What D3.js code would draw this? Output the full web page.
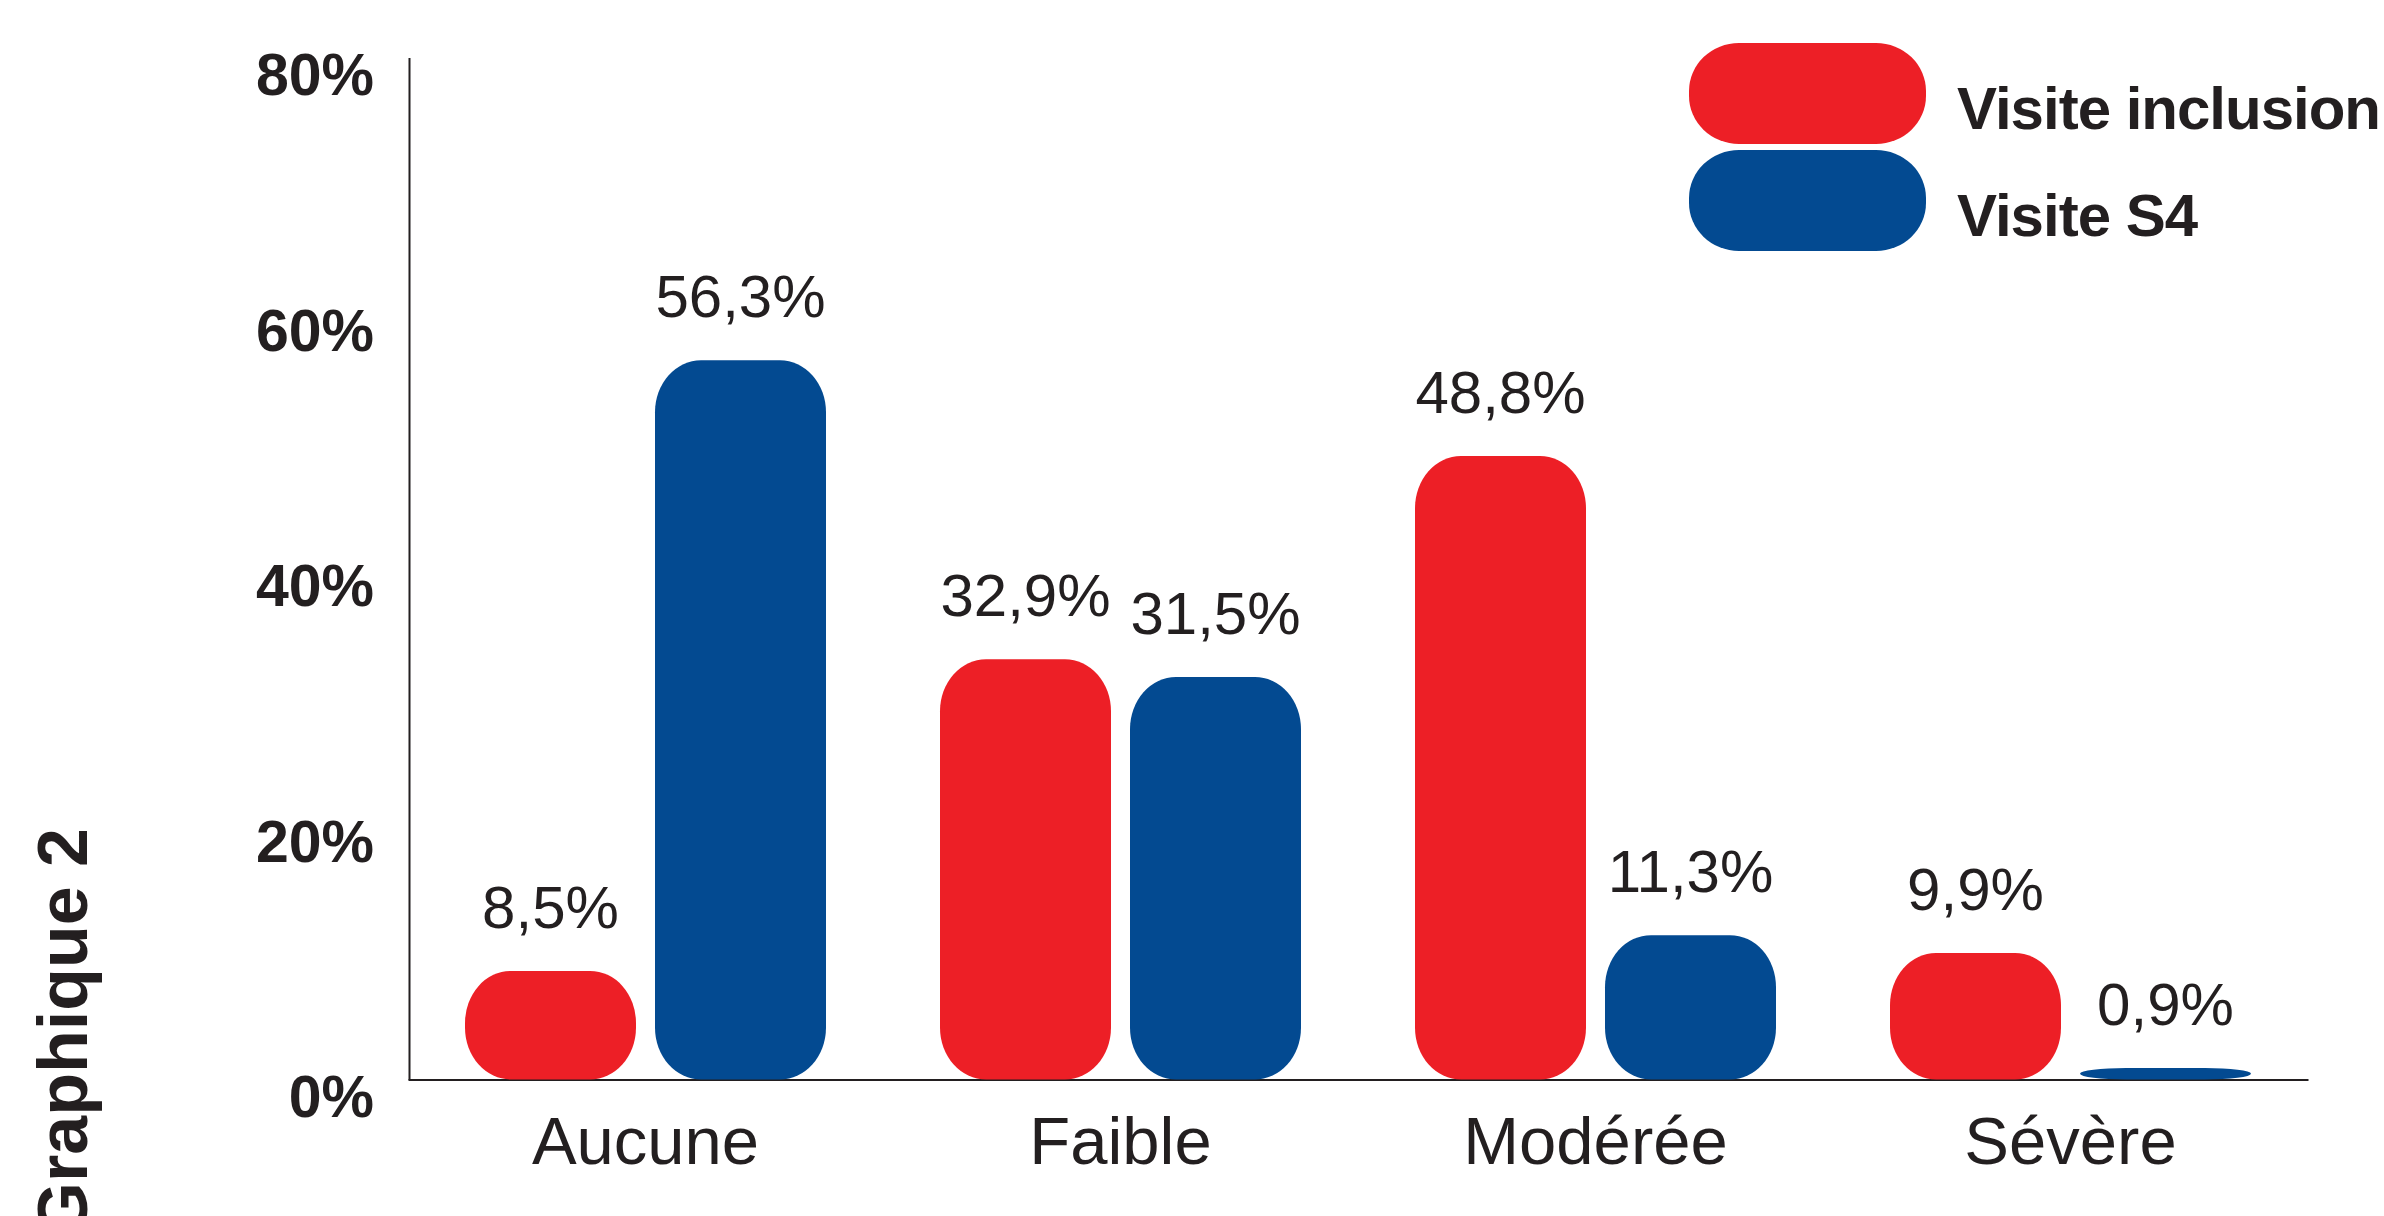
<!DOCTYPE html>
<html>
<head>
<meta charset="utf-8">
<script src="https://cdn.jsdelivr.net/npm/d3@7"></script>
<style>
  body { margin: 0; background: #fff; }
  text { font-family: "Liberation Sans", Arial, Helvetica, sans-serif; fill: #231f20; }
</style>
</head>
<body>
<div id="chart"></div>
<script>
// data
var categories = ["Aucune", "Faible", "Modérée", "Sévère"];
var series = ["Visite inclusion", "Visite S4"];
var inclusion = [8.5, 32.9, 48.8, 9.9];
var s4 = [56.3, 31.5, 11.3, 0.9];
var yTicks = [0, 20, 40, 60, 80];
var colors = ["#ed1f26", "#034a91"];

var svgWidth = 2384;
var svgHeight = 1216;

var svg = d3.select("#chart")
  .append("svg")
  .attr("width", svgWidth)
  .attr("height", svgHeight);

// scales
var y = d3.scaleLinear()
  .domain([0, 80])
  .range([1079.5, 57.5]);

var x0 = d3.scaleBand()
  .domain(categories)
  .range([408, 2308])
  .padding(0);

var x1 = d3.scaleBand()
  .domain(series)
  .range([0, x0.bandwidth()])
  .paddingInner(0.1)
  .paddingOuter(0.3);

var fmt = function(v) { return String(v).replace(".", ",") + "%"; };

// y axis
var leftAxis = d3.axisLeft(y)
  .tickValues(yTicks)
  .tickSize(0)
  .tickSizeOuter(0)
  .tickPadding(35)
  .tickFormat(d => d + "%");

var gy = svg.append("g")
  .attr("transform", "translate(409,0)")
  .call(leftAxis);
gy.select(".domain").attr("stroke", "#231f20").attr("stroke-width", 2);
gy.selectAll("text")
  .attr("dy", 37)
  .attr("font-size", 59)
  .attr("font-weight", "bold")
  .attr("font-family", null)
  .attr("fill", "#231f20");

// x axis
var bottomAxis = d3.axisBottom(x0)
  .tickSize(0)
  .tickSizeOuter(0);

var gx = svg.append("g")
  .attr("transform", "translate(0,1079.5)")
  .call(bottomAxis);
gx.select(".domain").attr("stroke", "#231f20").attr("stroke-width", 2);
gx.selectAll("text")
  .attr("y", 0)
  .attr("dy", 84)
  .attr("font-size", 67)
  .attr("font-family", null)
  .attr("fill", "#231f20");

// bars
var rows = categories.map(function(c, i) {
  return { cat: c, vals: [ { s: series[0], v: inclusion[i], k: 0 }, { s: series[1], v: s4[i], k: 1 } ] };
});

var groups = svg.selectAll(".grp")
  .data(rows)
  .enter()
  .append("g")
  .attr("class", "grp")
  .attr("transform", d => `translate(${x0(d.cat)},0)`);

groups.selectAll("rect")
  .data(d => d.vals)
  .enter()
  .append("rect")
  .attr("x", d => x1(d.s))
  .attr("y", d => y(d.v))
  .attr("width", x1.bandwidth())
  .attr("height", d => y(0) - y(d.v))
  .attr("rx", 46)
  .attr("ry", d => Math.min(52, (y(0) - y(d.v)) / 2))
  .attr("fill", d => colors[d.k]);

groups.selectAll(".val")
  .data(d => d.vals)
  .enter()
  .append("text")
  .attr("class", "val")
  .attr("x", d => x1(d.s) + x1.bandwidth() / 2)
  .attr("y", d => y(d.v) - 43)
  .attr("text-anchor", "middle")
  .attr("font-size", 60)
  .text(d => fmt(d.v));

// legend
var legend = svg.selectAll(".leg")
  .data(series)
  .enter()
  .append("g")
  .attr("class", "leg")
  .attr("transform", (d, i) => `translate(1689,${43 + i * 107})`);

legend.append("rect")
  .attr("width", 237)
  .attr("height", 101)
  .attr("rx", 50)
  .attr("ry", 48)
  .attr("fill", (d, i) => colors[i]);

legend.append("text")
  .attr("x", 268)
  .attr("y", 86)
  .attr("font-size", 60)
  .attr("font-weight", "bold")
  .attr("letter-spacing", -1)
  .text(d => d);

// side caption
svg.append("text")
  .attr("transform", "translate(87,828) rotate(-90)")
  .attr("text-anchor", "end")
  .attr("font-size", 70)
  .attr("font-weight", "bold")
  .text("Graphique 2");
</script>
</body>
</html>
